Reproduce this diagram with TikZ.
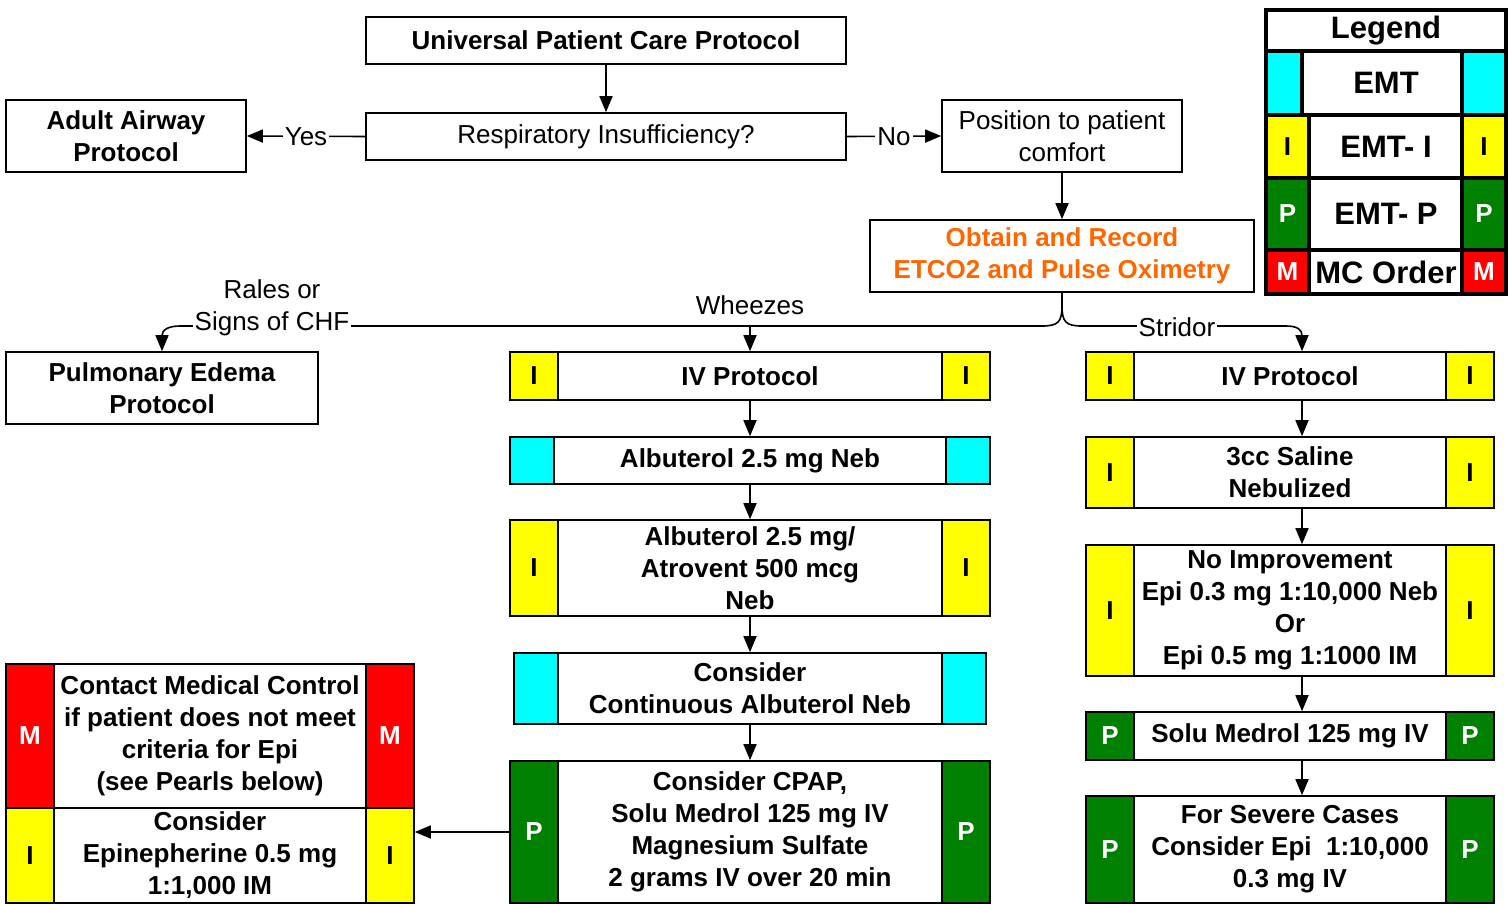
\documentclass[tikz,border=0pt]{standalone}
\usepackage{fontspec}
\setmainfont{Liberation Sans}
\usepackage{tikz}
\usetikzlibrary{arrows.meta}

\definecolor{emtB}{RGB}{0,255,255}
\definecolor{emtI}{RGB}{255,255,0}
\definecolor{emtP}{RGB}{0,128,0}
\definecolor{emtM}{RGB}{255,0,0}
\definecolor{etco}{RGB}{255,102,0}

\newcommand{\flowfont}{\fontsize{26}{32}\selectfont}
\newcommand{\legfont}{\fontsize{31}{36}\selectfont}

\tikzset{
	box/.style={draw, line width=1.6pt, align=center, inner sep=0pt, font=\flowfont\bfseries},
	plainbox/.style={draw, line width=1.6pt, align=center, inner sep=0pt, font=\flowfont},
	tabB/.style={draw, line width=1.6pt, fill=emtB, minimum width=44pt, inner sep=0pt},
	tabI/.style={draw, line width=1.6pt, fill=emtI, minimum width=48pt, inner sep=0pt, font=\flowfont\bfseries},
	tabP/.style={draw, line width=1.6pt, fill=emtP, text=white, minimum width=48pt, inner sep=0pt, font=\flowfont\bfseries},
	tabM/.style={draw, line width=1.6pt, fill=emtM, text=white, minimum width=48pt, inner sep=0pt, font=\flowfont\bfseries},
	lbl/.style={fill=white, inner sep=2pt, align=center, font=\flowfont},
	legrow/.style={draw, line width=4pt, minimum width=240pt, inner sep=0pt, font=\legfont\bfseries},
	legtab/.style={draw, line width=4pt, inner sep=0pt, font=\flowfont\bfseries},
}

\begin{document}
\begin{tikzpicture}[x=1pt, y=-1pt, line width=1.6pt, >={Triangle[length=16pt,width=13pt]}]
		
		\useasboundingbox (0,0) rectangle (1509,905);
		
		% Node
		
		\node[box, minimum width=480pt, minimum height=47pt]
		(upc) at (606,40.5) {Universal Patient Care Protocol};
		\node[plainbox, minimum width=480pt, minimum height=47pt]
		(resp) at (606,136.5) {Respiratory Insufficiency?};
		\node[box, minimum width=240pt, minimum height=72pt]
		(adult) at (126,136) {Adult Airway\\Protocol};
		\node[plainbox, minimum width=240pt, minimum height=72pt]
		(pos) at (1062,136) {Position to patient\\comfort};
		\node[box, text=etco, minimum width=384pt, minimum height=72pt]
		(obt) at (1062,256) {Obtain and Record\\ETCO2 and Pulse Oximetry};
		\node[box, minimum width=312pt, minimum height=72pt]
		(pulm) at (162,388) {Pulmonary Edema\\Protocol};
		
		% Wheezes nodes
		
		\node[box, minimum width=480pt, minimum height=48pt]
		(iv1) at (750,376) {IV Protocol};
		\node[tabI, minimum height=48pt, anchor=west] (iv1L) at (iv1.west) {I};
		\node[tabI, minimum height=48pt, anchor=east] (iv1R) at (iv1.east) {I};
		
		\node[box, minimum width=480pt, minimum height=47pt]
		(alb) at (750,460.5) {Albuterol 2.5 mg Neb};
		\node[tabB, minimum height=47pt, anchor=west] (albL) at (alb.west) {};
		\node[tabB, minimum height=47pt, anchor=east] (albR) at (alb.east) {};
		
		\node[box, minimum width=480pt, minimum height=96pt]
		(atr) at (750,568) {Albuterol 2.5 mg/\\Atrovent 500 mcg\\Neb};
		\node[tabI, minimum height=96pt, anchor=west] (atrL) at (atr.west) {I};
		\node[tabI, minimum height=96pt, anchor=east] (atrR) at (atr.east) {I};
		
		\node[box, minimum width=472pt, minimum height=71pt]
		(cont) at (750,688.5) {Consider\\Continuous Albuterol Neb};
		\node[tabB, minimum height=71pt, anchor=west] (contL) at (cont.west) {};
		\node[tabB, minimum height=71pt, anchor=east] (contR) at (cont.east) {};
		
		\node[box, minimum width=480pt, minimum height=142pt]
		(cpap) at (750,832) {Consider CPAP,\\Solu Medrol 125 mg IV\\Magnesium Sulfate\\2 grams IV over 20 min};
		\node[tabP, minimum height=142pt, anchor=west] (cpapL) at (cpap.west) {P};
		\node[tabP, minimum height=142pt, anchor=east] (cpapR) at (cpap.east) {P};
		
		% Epi nodes
		
		\node[box, minimum width=408pt, minimum height=144pt]
		(mc) at (210,736) {Contact Medical Control\\if patient does not meet\\criteria for Epi\\(see Pearls below)};
		\node[tabM, minimum height=144pt, anchor=west] (mcL) at (mc.west) {M};
		\node[tabM, minimum height=144pt, anchor=east] (mcR) at (mc.east) {M};
		
		\node[box, minimum width=408pt, minimum height=95pt]
		(epi) at (210,855.5) {Consider\\Epinepherine 0.5 mg\\1:1,000 IM};
		\node[tabI, minimum height=95pt, anchor=west] (epiL) at (epi.west) {I};
		\node[tabI, minimum height=95pt, anchor=east] (epiR) at (epi.east) {I};
		
		% Stridor nodes
		
		\node[box, minimum width=408pt, minimum height=48pt]
		(iv2) at (1290,376) {IV Protocol};
		\node[tabI, minimum height=48pt, anchor=west] (iv2L) at (iv2.west) {I};
		\node[tabI, minimum height=48pt, anchor=east] (iv2R) at (iv2.east) {I};
		
		\node[box, minimum width=408pt, minimum height=71pt]
		(sal) at (1290,472.5) {3cc Saline\\Nebulized};
		\node[tabI, minimum height=71pt, anchor=west] (salL) at (sal.west) {I};
		\node[tabI, minimum height=71pt, anchor=east] (salR) at (sal.east) {I};
		
		\node[box, minimum width=408pt, minimum height=131pt]
		(noimp) at (1290,610.5) {No Improvement\\Epi 0.3 mg 1:10,000 Neb\\Or\\Epi 0.5 mg 1:1000 IM};
		\node[tabI, minimum height=131pt, anchor=west] (noimpL) at (noimp.west) {I};
		\node[tabI, minimum height=131pt, anchor=east] (noimpR) at (noimp.east) {I};
		
		\node[box, minimum width=408pt, minimum height=48pt]
		(solu) at (1290,736) {Solu Medrol 125 mg IV};
		\node[tabP, minimum height=48pt, anchor=west] (soluL) at (solu.west) {P};
		\node[tabP, minimum height=48pt, anchor=east] (soluR) at (solu.east) {P};
		
		\node[box, minimum width=408pt, minimum height=107pt]
		(sev) at (1290,849.5) {For Severe Cases\\Consider Epi\ \ 1:10,000\\0.3 mg IV};
		\node[tabP, minimum height=107pt, anchor=west] (sevL) at (sev.west) {P};
		\node[tabP, minimum height=107pt, anchor=east] (sevR) at (sev.east) {P};
		
		% EDGE
		
		\draw[->] (upc) -- (resp);
		\draw[->] (resp.west) -- node[lbl] (yes) {Yes} (adult.east);
		\draw[->] (resp.east) -- node[lbl] (no) {No} (pos.west);
		\draw[->] (pos) -- (obt);
		
		% Branch EDGE
		
		\coordinate (wz) at (750,326);
		
		\draw[->] (obt.south) -- (1062,306) .. controls (1062,322) and (1058,326) .. (1042,326) -- (180,326) .. controls (168,326) and (162,330) .. (pulm.north);
		\draw[->] (obt.south) -- (1062,306) .. controls (1062,322) and (1066,326) .. (1082,326) -- (1286,326) .. controls (1298,326) and (1302,330) .. ([xshift=12pt]iv2.north);
		\draw[->] (wz) -- (iv1.north);
		
		\node[lbl] (rales) at (272,308) {Rales or\\Signs of CHF};
		\node[lbl] (stridor) at (1177,327) {Stridor};
		\node[font=\flowfont] (wheeze) at (750,305) {Wheezes};
		
		% Column EDGE
		
		\draw[->] (iv1) -- (alb);
		\draw[->] (alb) -- (atr);
		\draw[->] (atr) -- (cont);
		\draw[->] (cont) -- (cpap);
		\draw[->] (cpap.west) -- (cpap.west -| epi.east);
		
		\draw[->] ([xshift=12pt]iv2.south) -- ([xshift=12pt]sal.north);
		\draw[->] ([xshift=12pt]sal.south) -- ([xshift=12pt]noimp.north);
		\draw[->] ([xshift=12pt]noimp.south) -- ([xshift=12pt]solu.north);
		\draw[->] ([xshift=12pt]solu.south) -- ([xshift=12pt]sev.north);
		
		% Legend
		
		\node[legrow, minimum height=41pt] (legHead) at (1386,30.5) {Legend};
		
		\node[legrow, minimum height=64pt] (legB) at (1386,83) {EMT};
		\node[legtab, fill=emtB, minimum width=36pt, minimum height=64pt, anchor=west] (legBL) at (legB.west) {};
		\node[legtab, fill=emtB, minimum width=44pt, minimum height=64pt, anchor=east] (legBR) at (legB.east) {};
		
		\node[legrow, minimum height=63pt] (legI) at (1386,146.5) {EMT- I};
		\node[legtab, fill=emtI, minimum width=43pt, minimum height=63pt, anchor=west] (legIL) at (legI.west) {I};
		\node[legtab, fill=emtI, minimum width=44pt, minimum height=63pt, anchor=east] (legIR) at (legI.east) {I};
		
		\node[legrow, minimum height=72pt] (legP) at (1386,214) {EMT- P};
		\node[legtab, fill=emtP, text=white, minimum width=43pt, minimum height=72pt, anchor=west] (legPL) at (legP.west) {P};
		\node[legtab, fill=emtP, text=white, minimum width=44pt, minimum height=72pt, anchor=east] (legPR) at (legP.east) {P};
		
		\node[legrow, minimum height=44pt] (legM) at (1386,272) {MC Order};
		\node[legtab, fill=emtM, text=white, minimum width=43pt, minimum height=44pt, anchor=west] (legML) at (legM.west) {M};
		\node[legtab, fill=emtM, text=white, minimum width=44pt, minimum height=44pt, anchor=east] (legMR) at (legM.east) {M};
		
	\end{tikzpicture}
\end{document}
